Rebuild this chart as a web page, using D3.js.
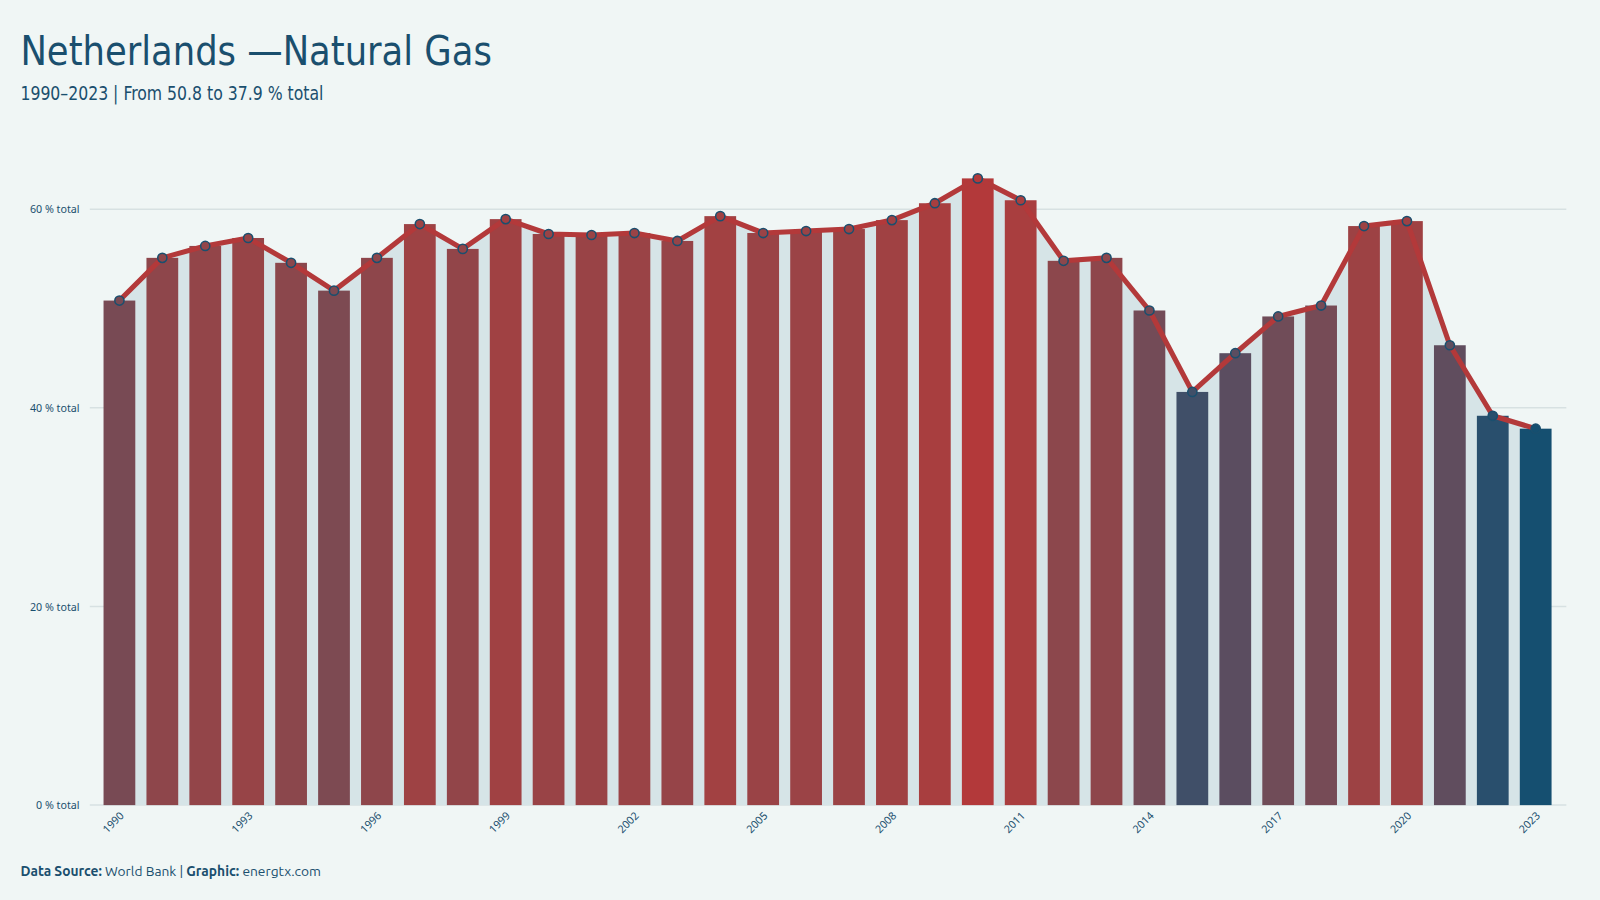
<!DOCTYPE html>
<html><head><meta charset="utf-8">
<script src="https://cdn.jsdelivr.net/npm/d3@7"></script>
<style>
body{margin:0;background:#f0f6f5;}
svg{font-family:"Ubuntu Condensed","Liberation Sans Narrow","DejaVu Sans Condensed",sans-serif;}
</style></head><body>
<script>
var years = d3.range(1990, 2024);
var values = [50.8,55.1,56.3,57.1,54.6,51.8,55.1,58.5,56.0,59.0,57.5,57.4,57.6,56.8,59.3,57.6,57.8,58.0,58.9,60.6,63.1,60.9,54.8,55.1,49.8,41.6,45.5,49.2,50.3,58.3,58.8,46.3,39.2,37.9];
var yTicks = [0,20,40,60];
var xLabels = [1990,1993,1996,1999,2002,2005,2008,2011,2014,2017,2020,2023];
var data = years.map(function(y,i){ return {year:y, value:values[i]}; });

var width = 1600, height = 900;
var svg0 = d3.select('body').append('svg').attr('width',width).attr('height',height);
svg0.append('rect').attr('width',width).attr('height',height).attr('fill','#f0f6f5');
// layout measured on a 1568-wide copy
var svg = svg0.append('g').attr('transform','scale(' + (1600/1568) + ')');

var x = d3.scaleBand().domain(years).range([96,1526]).paddingInner(0.26).paddingOuter(0.13);
var y = d3.scaleLinear().domain([0,60]).range([789,205]);
var color = d3.scaleLinear().domain([d3.min(values), d3.max(values)])
    .range(['#154f70','#b3393a']).interpolate(d3.interpolateLab);

// grid
svg.append('g').selectAll('line').data(yTicks).join('line')
    .attr('x1',88).attr('x2',1535)
    .attr('y1',function(d){return y(d);}).attr('y2',function(d){return y(d);})
    .attr('stroke','#d7e1e2').attr('stroke-width',1.5);
svg.append('g').selectAll('text').data(yTicks).join('text')
    .attr('x',78).attr('y',function(d){return y(d)+4;})
    .attr('text-anchor','end').attr('font-family','Noto Sans, sans-serif')
    .attr('font-size',10.5).attr('fill','#1a4f6e')
    .text(function(d){return d+' % total';});

var cx = function(d){return x(d.year)+x.bandwidth()/2;};

// area under line
svg.append('path').datum(data)
    .attr('d', d3.area().x(cx).y0(789).y1(function(d){return y(d.value);}))
    .attr('fill','#d6e4e7');

// bars
svg.append('g').selectAll('rect').data(data).join('rect')
    .attr('x',function(d){return x(d.year);}).attr('width',x.bandwidth())
    .attr('y',function(d){return y(d.value);})
    .attr('height',function(d){return 789-y(d.value);})
    .attr('fill',function(d){return color(d.value);});

// line
svg.append('path').datum(data)
    .attr('d', d3.line().x(cx).y(function(d){return y(d.value);}))
    .attr('fill','none').attr('stroke','#b3393a').attr('stroke-width',5).attr('stroke-linejoin','round');
svg.append('g').selectAll('circle').data(data).join('circle')
    .attr('cx',cx).attr('cy',function(d){return y(d.value);}).attr('r',4.5)
    .attr('fill',function(d){return color(d.value);}).attr('stroke','#1a4f6e').attr('stroke-width',1.5);

// x labels
svg.append('g').selectAll('text').data(xLabels).join('text')
    .attr('transform',function(d){return 'translate('+(x(d)+x.bandwidth()/2+5)+',800) rotate(-45)';})
    .attr('text-anchor','end').attr('font-family','Noto Sans, sans-serif')
    .attr('font-size',10.5).attr('fill','#1a4f6e').text(function(d){return d;});

// titles
svg.append('text').attr('x',20).attr('y',64).attr('font-size',40).attr('fill','#1a4f6e')
    .attr('textLength',462).attr('lengthAdjust','spacingAndGlyphs')
    .text('Netherlands —Natural Gas');
svg.append('text').attr('x',20).attr('y',98).attr('font-size',19).attr('fill','#1a4f6e')
    .attr('textLength',297).attr('lengthAdjust','spacingAndGlyphs')
    .text('1990–2023 | From 50.8 to 37.9 % total');

var foot = svg.append('text').attr('x',20).attr('y',858).attr('font-size',13.5)
    .attr('font-family','Ubuntu, Noto Sans, sans-serif').attr('fill','#1a4f6e');
foot.append('tspan').attr('font-weight','bold').text('Data Source:');
foot.append('tspan').text(' World Bank | ');
foot.append('tspan').attr('font-weight','bold').text('Graphic:');
foot.append('tspan').text(' energtx.com');
</script>
</body></html>
